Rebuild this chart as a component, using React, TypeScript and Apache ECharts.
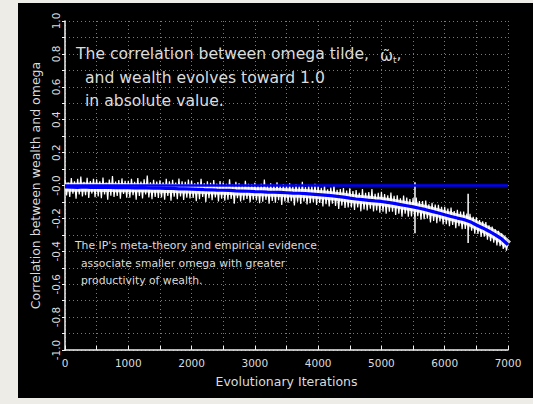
import React, { useEffect, useRef } from "react";
import * as echarts from "echarts";

// ---- data ----
const xMin = 0;
const xMax = 7000;
const yTickLabels = ["-1.0", "-0.8", "-0.6", "-0.4", "-0.2", "-0.0", "0.2", "0.4", "0.6", "0.8", "1.0"];

// smoothed correlation (blue), every 100 iterations
const trendStep = 100;
const trendValues = [
  -0.009, -0.010, -0.011, -0.009, -0.011, -0.011, -0.012, -0.011, -0.013, -0.012,
  -0.013, -0.014, -0.013, -0.015, -0.016, -0.016, -0.018, -0.017, -0.020, -0.021,
  -0.022, -0.023, -0.025, -0.026, -0.028, -0.029, -0.030, -0.033, -0.034, -0.035,
  -0.037, -0.038, -0.040, -0.041, -0.042, -0.044, -0.046, -0.047, -0.049, -0.052,
  -0.055, -0.058, -0.062, -0.066, -0.071, -0.077, -0.082, -0.086, -0.090, -0.094,
  -0.097, -0.103, -0.109, -0.116, -0.123, -0.130, -0.138, -0.147, -0.157, -0.167,
  -0.178, -0.188, -0.198, -0.207, -0.220, -0.240, -0.258, -0.278, -0.300, -0.325,
  -0.360,
];

// raw correlation (white), every 25 iterations
const rawStep = 25;
const rawValues = [
  0.035, -0.060, 0.018, -0.070, 0.045, -0.050, 0.026, -0.080, 0.040, -0.055, 0.055, -0.066, 0.022, -0.059, 0.047, -0.076, 0.027, -0.049, 0.041, -0.071,
  0.038, -0.067, 0.026, -0.077, 0.048, -0.054, 0.018, -0.087, 0.036, -0.062, 0.058, -0.070, 0.024, -0.064, 0.033, -0.080, 0.043, -0.052, 0.029, -0.074,
  0.028, -0.074, 0.041, -0.059, 0.022, -0.086, 0.046, -0.064, 0.024, -0.079, 0.038, -0.054, 0.061, -0.072, 0.019, -0.084, 0.034, -0.069, 0.024, -0.076,
  0.032, -0.073, 0.020, -0.086, 0.040, -0.063, 0.025, -0.093, 0.034, -0.068, 0.018, -0.083, 0.042, -0.066, 0.026, -0.088, 0.022, -0.074, 0.036, -0.078,
  0.030, -0.075, 0.013, -0.095, 0.021, -0.083, 0.040, -0.070, 0.013, -0.100, 0.025, -0.077, 0.016, -0.090, 0.033, -0.073, 0.011, -0.097, 0.027, -0.080,
  0.018, -0.092, 0.011, -0.087, 0.038, -0.082, 0.006, -0.110, 0.023, -0.077, 0.014, -0.097, 0.004, -0.090, 0.028, -0.082, 0.011, -0.102, 0.008, -0.087,
  0.016, -0.091, 0.001, -0.107, 0.011, -0.099, 0.036, -0.087, -0.001, -0.111, 0.013, -0.094, 0.004, -0.104, 0.019, -0.089, -0.001, -0.119, 0.009, -0.097,
  0.003, -0.105, 0.013, -0.095, -0.007, -0.122, 0.008, -0.099, -0.004, -0.112, 0.023, -0.097, -0.009, -0.115, 0.005, -0.107, -0.003, -0.102, 0.011, -0.119,
  0.000, -0.106, -0.014, -0.128, 0.002, -0.114, -0.023, -0.127, -0.012, -0.111, 0.001, -0.125, -0.026, -0.142, -0.021, -0.122, -0.015, -0.137, -0.031, -0.133,
  -0.017, -0.133, -0.034, -0.149, -0.027, -0.133, -0.044, -0.157, -0.021, -0.145, -0.045, -0.151, -0.040, -0.141, -0.022, -0.158, -0.050, -0.152, -0.044, -0.166,
  -0.039, -0.159, -0.052, -0.172, -0.060, -0.159, -0.043, -0.159, -0.063, -0.179, -0.059, -0.172, -0.078, -0.190, -0.061, -0.171, -0.073, -0.190, -0.082, -0.188,
  -0.077, -0.190, -0.074, -0.186, -0.095, -0.208, -0.095, -0.205, -0.091, -0.201, -0.114, -0.224, -0.105, -0.215, -0.116, -0.229, -0.117, -0.219, -0.129, -0.237,
  -0.130, -0.235, -0.140, -0.247, -0.134, -0.240, -0.155, -0.260, -0.148, -0.248, -0.158, -0.265, -0.159, -0.264, -0.171, -0.271, -0.172, -0.275, -0.190, -0.293,
  -0.194, -0.295, -0.210, -0.313, -0.217, -0.311, -0.222, -0.330, -0.242, -0.338, -0.249, -0.347, -0.267, -0.365, -0.275, -0.369, -0.290, -0.385, -0.310, -0.396,
  -0.350,
];

// two isolated outlier spikes: [iteration, top, bottom]
const spikes = [
  [5530, 0.02, -0.29],
  [6370, -0.05, -0.35],
];

// initial-level reference line (blue)
const referenceLevel = 0.0;

const titleLines = ["The correlation between omega tilde, ", "and wealth evolves toward 1.0", "in absolute value."];
const noteLines = ["The IP's meta-theory and empirical evidence", "associate smaller omega with greater", "productivity of wealth."];

const FONT = "'DejaVu Sans', 'Noto Sans', sans-serif";
const TXT = "#dcdcdc";

export default function App() {
  const ref = useRef<HTMLDivElement>(null);

  useEffect(() => {
    if (!ref.current) return;
    const chart = echarts.init(ref.current, null, { renderer: "svg" });

    const coreData = trendValues.map((v, i) => [i * trendStep, v]);
    const blueData = trendValues.map((v, i) => [i * trendStep, v]);
    const rawData = rawValues.map((v, i) => [i * rawStep, v]);
    const spikeSeries = spikes.map((s, k) => ({
      id: "spike" + k,
      type: "line",
      data: [
        [s[0], s[1]],
        [s[0], s[2]],
      ],
      showSymbol: false,
      silent: true,
      z: 3,
      lineStyle: { color: "#ffffff", width: 1.5 },
    }));

    chart.setOption({
      animation: false,
      backgroundColor: "#000000",
      grid: { left: 47, right: 25, top: 18, bottom: 48, containLabel: false },
      xAxis: {
        type: "value",
        min: xMin,
        max: xMax,
        interval: 500,
        name: "Evolutionary Iterations",
        nameLocation: "middle",
        nameGap: 25,
        nameTextStyle: { color: TXT, fontFamily: FONT, fontSize: 12.5 },
        axisLine: { show: true, onZero: false, lineStyle: { color: "#f2f2f2", width: 1.5 } },
        axisTick: { show: true, inside: true, length: 4, lineStyle: { color: "#f2f2f2" } },
        axisLabel: {
          color: TXT,
          fontFamily: FONT,
          fontSize: 10.5,
          margin: 7,
          showMinLabel: true,
          showMaxLabel: true,
          formatter: (v: number) => (v % 1000 === 0 ? String(v) : ""),
        },
        splitLine: { show: true, lineStyle: { color: "#7a7a7a", type: [1, 3], width: 1 } },
      },
      yAxis: {
        type: "value",
        min: -1,
        max: 1,
        interval: 0.1,
        name: "Correlation between wealth and omega",
        nameLocation: "middle",
        nameRotate: 90,
        nameGap: 23,
        nameTextStyle: { color: TXT, fontFamily: FONT, fontSize: 12.5 },
        axisLine: { show: true, onZero: false, lineStyle: { color: "#f2f2f2", width: 1.5 } },
        axisTick: { show: true, inside: false, length: 3, lineStyle: { color: "#f2f2f2" } },
        axisLabel: {
          color: TXT,
          fontFamily: FONT,
          fontSize: 10.5,
          rotate: 90,
          margin: 4,
          showMinLabel: true,
          showMaxLabel: true,
          formatter: (v: number) => {
            const k = Math.round(v * 10);
            if (k % 2 !== 0) return "";
            return yTickLabels[(k + 10) / 2];
          },
        },
        splitLine: { show: true, lineStyle: { color: "#7a7a7a", type: [1, 3], width: 1 } },
      },
      series: [
        {
          id: "core",
          type: "line",
          data: coreData,
          showSymbol: false,
          silent: true,
          z: 1,
          lineStyle: { color: "#d4d4d4", width: 9 },
        },
        {
          id: "raw",
          type: "line",
          data: rawData,
          showSymbol: false,
          silent: true,
          z: 2,
          lineStyle: { color: "#ffffff", width: 1.2 },
        },
        ...spikeSeries,
        {
          id: "reference",
          type: "line",
          data: [
            [xMin, referenceLevel],
            [xMax, referenceLevel],
          ],
          showSymbol: false,
          silent: true,
          z: 6,
          lineStyle: { color: "#0000ff", width: 2.5 },
        },
        {
          id: "blueTrend",
          type: "line",
          data: blueData,
          showSymbol: false,
          silent: true,
          z: 8,
          lineStyle: { color: "#0000ff", width: 3.2 },
        },
      ],
      graphic: {
        elements: [
          {
            type: "text",
            x: 58,
            y: 51,
            z: 10,
            style: {
              text: titleLines[0] + "{w|ω̃}{s|t}{c|,}",
              fill: TXT,
              fontFamily: FONT,
              fontSize: 15.6,
              verticalAlign: "middle",
              align: "left",
              rich: {
                w: { fontFamily: FONT, fontSize: 15.6, fill: TXT, color: TXT, lineHeight: 20, verticalAlign: "bottom", padding: [0, 0, 0, 6] },
                s: { fontFamily: FONT, fontSize: 9, fill: TXT, color: TXT, lineHeight: 10, verticalAlign: "bottom" },
                c: { fontFamily: FONT, fontSize: 15.6, fill: TXT, color: TXT },
              },
            },
          },
          {
            type: "text",
            x: 67,
            y: 75,
            z: 10,
            style: { text: titleLines[1], fill: TXT, fontFamily: FONT, fontSize: 15.6, verticalAlign: "middle", align: "left" },
          },
          {
            type: "text",
            x: 67,
            y: 98,
            z: 10,
            style: { text: titleLines[2], fill: TXT, fontFamily: FONT, fontSize: 15.6, verticalAlign: "middle", align: "left" },
          },
          {
            type: "text",
            x: 57,
            y: 242,
            z: 10,
            style: { text: noteLines[0], fill: TXT, fontFamily: FONT, fontSize: 10.8, verticalAlign: "middle", align: "left" },
          },
          {
            type: "text",
            x: 63,
            y: 260,
            z: 10,
            style: { text: noteLines[1], fill: TXT, fontFamily: FONT, fontSize: 10.8, verticalAlign: "middle", align: "left" },
          },
          {
            type: "text",
            x: 63,
            y: 277,
            z: 10,
            style: { text: noteLines[2], fill: TXT, fontFamily: FONT, fontSize: 10.8, verticalAlign: "middle", align: "left" },
          },
        ],
      },
    });

    return () => chart.dispose();
  }, []);

  return (
    <div style={{ position: "fixed", left: 0, top: 0, width: 533, height: 404, background: "#eeece6", overflow: "hidden" }}>
      <div ref={ref} style={{ position: "absolute", left: 18, top: 3, width: 515, height: 395 }} />
    </div>
  );
}
